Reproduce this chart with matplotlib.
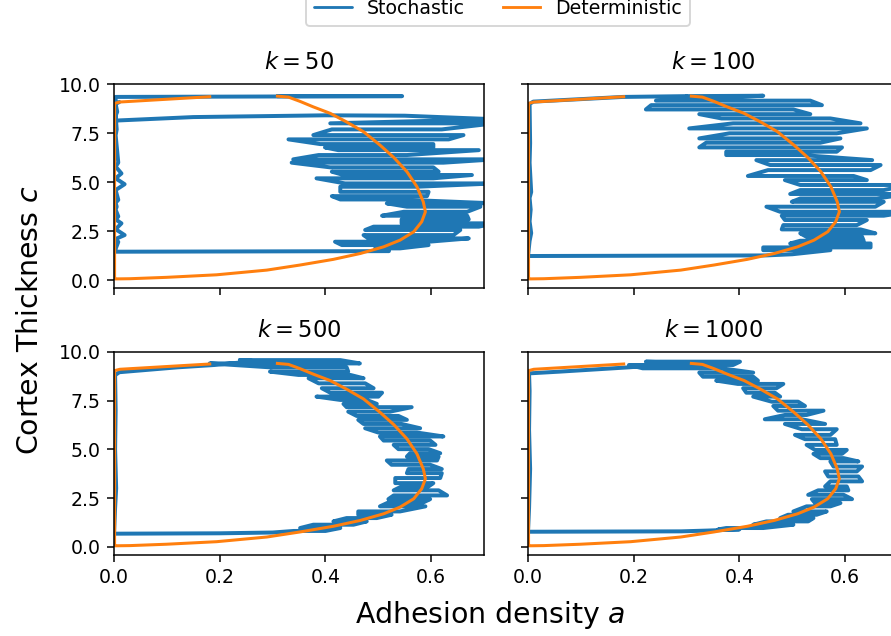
import matplotlib
matplotlib.use("Agg")
import matplotlib.pyplot as plt
import numpy as np

# deterministic orbit (same for every panel)
det_a = [0.309, 0.330, 0.352, 0.377, 0.409, 0.440, 0.472, 0.503, 0.529, 0.554, 0.573, 0.585,
         0.589, 0.582, 0.567, 0.541, 0.510, 0.466, 0.415, 0.352, 0.289, 0.194, 0.099,
         0.030, 0.002, 0.001, 0.001, 0.011, 0.181]
det_c = [9.40, 9.35, 9.13, 8.85, 8.52, 8.08, 7.58, 6.90, 6.27, 5.54, 4.77, 4.00,
         3.49, 2.98, 2.47, 2.04, 1.70, 1.36, 1.06, 0.77, 0.51, 0.27, 0.14,
         0.07, 0.06, 0.10, 9.03, 9.10, 9.37]

ks = [50, 100, 500, 1000]

# stochastic runs: start of path, noisy right branch (one stroke per level), end of path
head_a = {
    50: [0.309, 0.545, 0.003, 0.003, 0.002, 0.150, 0.400, 0.550, 0.720],
    100: [0.300, 0.445],
    500: [0.300, 0.240],
    1000: [0.300, 0.223],
}
head_c = {
    50: [9.40, 9.40, 9.36, 8.60, 8.15, 8.33, 8.42, 8.40, 8.22],
    100: [9.40, 9.42],
    500: [9.45, 9.57],
    1000: [9.42, 9.49],
}

band_c = {
    50: [8.01, 7.70, 7.41, 7.19, 6.95, 6.78, 6.64, 6.39, 6.17, 6.00, 5.76, 5.54, 5.37, 5.20,
         4.94, 4.77, 4.51, 4.29, 4.12, 3.92, 3.75, 3.49, 3.29, 3.10, 2.90, 2.73, 2.56, 2.30,
         2.13, 1.96, 1.79, 1.62],
    100: [9.17, 8.94, 8.72, 8.48, 8.26, 8.01, 7.75, 7.50, 7.24, 7.02, 6.78, 6.56, 6.39, 6.13,
          5.88, 5.62, 5.32, 5.11, 4.86, 4.60, 4.40, 4.17, 4.00, 3.75, 3.49, 3.29, 3.07, 2.81,
          2.59, 2.39, 2.21, 2.01, 1.87, 1.67, 1.53],
    500: [9.57, 9.40, 9.20, 8.98, 8.81, 8.64, 8.38, 8.13, 7.90, 7.70, 7.53, 7.33, 7.16, 6.93,
          6.71, 6.51, 6.30, 6.08, 5.86, 5.66, 5.45, 5.23, 5.01, 4.80, 4.63, 4.43, 4.21, 3.99,
          3.78, 3.53, 3.27, 3.10, 2.90, 2.64, 2.45, 2.28, 2.08, 1.82, 1.65, 1.48, 1.31, 1.14,
          0.97, 0.82],
    1000: [9.49, 9.32, 9.15, 8.93, 8.72, 8.52, 8.35, 8.13, 7.90, 7.70, 7.44, 7.22, 6.98, 6.76,
           6.54, 6.30, 6.03, 5.74, 5.52, 5.23, 4.97, 4.77, 4.55, 4.38, 4.12, 3.87, 3.61, 3.36,
           3.10, 2.90, 2.67, 2.45, 2.25, 2.08, 1.82, 1.65, 1.48, 1.31, 1.14, 0.97, 0.90],
}
band_lo = {
    50: [0.409, 0.412, 0.377, 0.330, 0.390, 0.399, 0.424, 0.387, 0.339, 0.336, 0.409, 0.412,
         0.434, 0.383, 0.437, 0.428, 0.428, 0.412, 0.428, 0.516, 0.554, 0.548, 0.507, 0.544,
         0.544, 0.491, 0.475, 0.472, 0.481, 0.418, 0.431, 0.494],
    100: [0.242, 0.233, 0.223, 0.324, 0.366, 0.388, 0.305, 0.381, 0.324, 0.337, 0.324, 0.375,
          0.375, 0.432, 0.458, 0.454, 0.416, 0.486, 0.515, 0.515, 0.496, 0.515, 0.499, 0.451,
          0.477, 0.480, 0.486, 0.483, 0.480, 0.515, 0.527, 0.515, 0.496, 0.445, 0.445],
    500: [0.238, 0.181, 0.295, 0.295, 0.349, 0.368, 0.387, 0.393, 0.409, 0.383, 0.428, 0.434,
          0.440, 0.443, 0.459, 0.462, 0.472, 0.475, 0.500, 0.503, 0.510, 0.529, 0.538, 0.560,
          0.554, 0.516, 0.525, 0.557, 0.554, 0.532, 0.532, 0.544, 0.529, 0.529, 0.519, 0.519,
          0.503, 0.462, 0.462, 0.440, 0.415, 0.377, 0.352, 0.340],
    1000: [0.223, 0.191, 0.217, 0.324, 0.331, 0.356, 0.397, 0.407, 0.413, 0.426, 0.461, 0.464,
           0.473, 0.486, 0.448, 0.486, 0.518, 0.505, 0.524, 0.527, 0.543, 0.540, 0.553, 0.572,
           0.578, 0.562, 0.568, 0.572, 0.562, 0.549, 0.530, 0.537, 0.543, 0.527, 0.502, 0.492,
           0.477, 0.451, 0.426, 0.375, 0.360],
}
band_hi = {
    50: [0.720, 0.620, 0.661, 0.633, 0.604, 0.604, 0.690, 0.554, 0.720, 0.623, 0.604, 0.614,
         0.677, 0.604, 0.720, 0.573, 0.595, 0.592, 0.535, 0.720, 0.693, 0.668, 0.668, 0.671,
         0.720, 0.690, 0.655, 0.642, 0.671, 0.595, 0.595, 0.541],
    100: [0.534, 0.556, 0.502, 0.534, 0.572, 0.629, 0.641, 0.584, 0.591, 0.553, 0.594, 0.584,
          0.518, 0.651, 0.667, 0.648, 0.616, 0.641, 0.720, 0.673, 0.720, 0.660, 0.673, 0.657,
          0.720, 0.673, 0.641, 0.622, 0.629, 0.657, 0.632, 0.635, 0.648, 0.648, 0.572],
    500: [0.428, 0.465, 0.440, 0.443, 0.447, 0.472, 0.475, 0.491, 0.507, 0.500, 0.478, 0.497,
          0.563, 0.522, 0.538, 0.554, 0.544, 0.579, 0.573, 0.623, 0.598, 0.608, 0.595, 0.617,
          0.614, 0.611, 0.598, 0.620, 0.620, 0.617, 0.604, 0.595, 0.614, 0.630, 0.598, 0.585,
          0.589, 0.541, 0.525, 0.497, 0.478, 0.453, 0.428, 0.400],
    1000: [0.401, 0.388, 0.366, 0.426, 0.426, 0.435, 0.483, 0.470, 0.467, 0.477, 0.511, 0.524,
           0.559, 0.527, 0.518, 0.562, 0.584, 0.572, 0.581, 0.584, 0.603, 0.594, 0.597, 0.625,
           0.632, 0.622, 0.625, 0.632, 0.603, 0.606, 0.597, 0.613, 0.591, 0.572, 0.565, 0.546,
           0.540, 0.530, 0.502, 0.445, 0.400],
}

tail_a = {
    50: [0.520, 0.000, 0.003, 0.008, 0.003, 0.020, 0.003, 0.014, 0.003, 0.008, 0.003, 0.005,
         0.003, 0.008, 0.003, 0.020, 0.003, 0.014, 0.003, 0.008, 0.003, 0.005, 0.003, 0.006,
         0.003, 0.010],
    100: [0.500, 0.450, 0.000, 0.003, 0.006, 0.003, 0.005, 0.003, 0.006, 0.003, 0.004, 0.003,
          0.010, 0.180, 0.300],
    500: [0.300, 0.200, 0.000, 0.002, 0.004, 0.002, 0.003, 0.002, 0.010, 0.120, 0.190, 0.240],
    1000: [0.340, 0.290, 0.000, 0.002, 0.004, 0.002, 0.003, 0.002, 0.060, 0.191, 0.250],
}
tail_c = {
    50: [1.48, 1.45, 1.60, 1.95, 2.10, 2.30, 2.60, 2.90, 3.10, 3.25, 3.60, 3.75, 3.95, 4.10,
         4.60, 4.90, 5.20, 5.45, 5.80, 6.00, 7.40, 7.70, 8.40, 8.60, 9.00, 9.10],
    100: [1.32, 1.26, 1.23, 2.00, 2.40, 3.00, 3.60, 4.20, 4.50, 6.00, 7.00, 9.00, 9.12, 9.36,
          9.40],
    500: [0.74, 0.70, 0.68, 2.00, 3.00, 5.00, 7.00, 8.80, 8.95, 9.20, 9.32, 9.45],
    1000: [0.84, 0.80, 0.78, 2.00, 4.00, 6.00, 8.00, 8.89, 8.98, 9.20, 9.32],
}


def stochastic_path(k):
    a = list(head_a[k])
    c = list(head_c[k])
    for i in range(len(band_c[k])):
        if i % 2 == 0:
            a += [band_lo[k][i], band_hi[k][i]]
        else:
            a += [band_hi[k][i], band_lo[k][i]]
        c += [band_c[k][i], band_c[k][i]]
    a += tail_a[k]
    c += tail_c[k]
    return np.array(a), np.array(c)


det_a_arr = np.array(det_a)
det_c_arr = np.array(det_c)

fig, axes = plt.subplots(2, 2, sharex=True, sharey=True, figsize=(891 / 136, 636 / 136), dpi=136)
positions = [[0.128, 0.547, 0.4153, 0.3203], [0.5926, 0.547, 0.4153, 0.3203],
             [0.128, 0.1274, 0.4153, 0.3196], [0.5926, 0.1274, 0.4153, 0.3196]]

for ax, k, pos in zip(axes.flat, ks, positions):
    ax.set_position(pos)
    sa, sc = stochastic_path(k)
    ax.plot(sa, sc, color="#1f77b4", lw=2.1, solid_capstyle="round", solid_joinstyle="round",
            label="Stochastic")
    ax.plot(det_a_arr, det_c_arr, color="#ff7f0e", lw=1.6, solid_joinstyle="round",
            label="Deterministic")
    ax.set_title("$k=%d$" % k, fontsize=12, pad=8)

axes[0, 0].set_xlim(0, 0.7)
axes[0, 0].set_ylim(-0.41, 10.0)
axes[0, 0].set_xticks([0.0, 0.2, 0.4, 0.6])
axes[0, 0].set_yticks([0.0, 2.5, 5.0, 7.5, 10.0])

handles, labels = axes[0, 0].get_legend_handles_labels()
fig.legend(handles, labels, loc="lower center", bbox_to_anchor=(0.559, 0.945), ncol=2,
           fontsize=10)
for line in fig.legends[0].get_lines():
    line.set_linewidth(1.5)

fig.text(0.55, 0.033, "Adhesion density $a$", ha="center", va="center", fontsize=15)
fig.text(0.034, 0.497, "Cortex Thickness $c$", ha="center", va="center", rotation=90,
         fontsize=15)

fig.savefig("out.png", dpi=136)
